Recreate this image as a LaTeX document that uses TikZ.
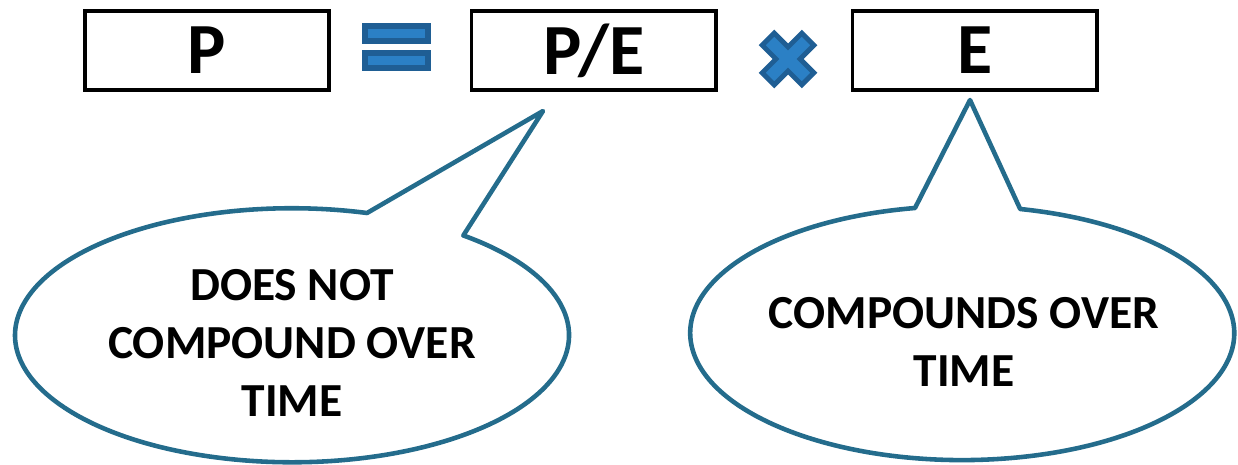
\documentclass[tikz,border=0pt]{standalone}
\usepackage{fontspec}
\setmainfont{Carlito}
\usetikzlibrary{positioning}
\definecolor{calloutblue}{RGB}{36,108,140}
\definecolor{signdark}{RGB}{31,94,148}
\definecolor{signfill}{RGB}{43,128,197}

\begin{document}
\begin{tikzpicture}[x=0.02cm,y=-0.02cm,
		term/.style={draw=black,line width=2pt,minimum width=4.89cm,minimum height=1.59cm,inner sep=0pt,font=\fontsize{41}{41}\selectfont\bfseries},
		bubble/.style={draw=calloutblue,line width=2.6pt,line join=round},
		bubbletext/.style={align=center,font=\fontsize{27}{33}\selectfont\bfseries},
		sign/.style={draw=signdark,fill=signfill,line width=3pt}]
				\useasboundingbox (0,0) rectangle (1238,464);
				\node[term] (p) at (207,50.5) {P};
				\node[term,right=2.78cm of p] (pe) {P/E};
				\node[term,right=2.66cm of pe] (e) {E};
				\draw[sign] (365,26) rectangle (428,41);
				\draw[sign] (365,53) rectangle (428,68);
				\begin{scope}[shift={(788,59)},rotate=45]
					\draw[sign,line width=2.8pt] (8.5,8.5) -- (8.5,28) -- (-8.5,28) -- (-8.5,8.5) -- (-28,8.5) -- (-28,-8.5) -- (-8.5,-8.5) -- (-8.5,-28) -- (8.5,-28) -- (8.5,-8.5) -- (28,-8.5) -- (28,8.5) -- cycle;
				\end{scope}
				\coordinate (petip) at (543,111);
				\coordinate (etip) at (970,100);
				\draw[bubble] (367,213) arc[start angle=-74.3,end angle=-411.8,x radius=277,y radius=127] -- (petip) -- cycle;
				\draw[bubble] (915,208) arc[start angle=-100,end angle=-437.7,x radius=272,y radius=127] -- (etip) -- cycle;
				\node[bubbletext] (ltext) at (292,343) {DOES NOT\\COMPOUND OVER\\TIME};
				\node[bubbletext] (rtext) at (964,342) {COMPOUNDS OVER\\TIME};
			\end{tikzpicture}
\end{document}
